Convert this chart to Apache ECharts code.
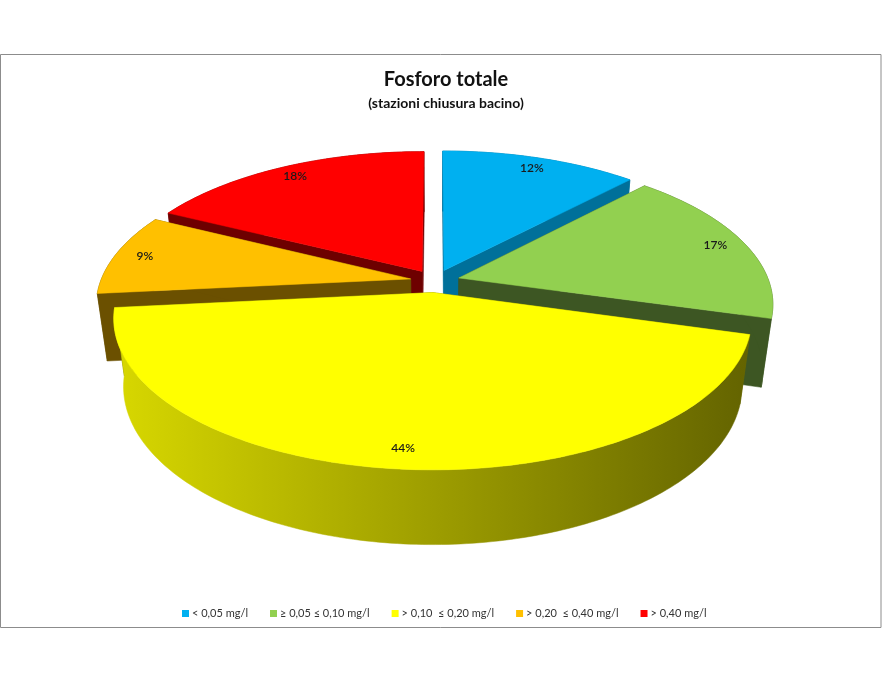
<!DOCTYPE html>
<html>
<head>
<meta charset="utf-8">
<script src="https://cdn.jsdelivr.net/npm/echarts@6/dist/echarts.min.js"></script>
<style>html,body{margin:0;padding:0;background:#fff}#c{width:882px;height:682px}</style>
</head>
<body>
<div id="c"></div>
<script>
// ---- data ----
var categories = ['< 0,05 mg/l', '≥ 0,05 ≤ 0,10 mg/l', '> 0,10  ≤ 0,20 mg/l', '> 0,20  ≤ 0,40 mg/l', '> 0,40 mg/l'];
var values = [12, 17.4, 44, 9, 17.6];
// ---- styles ----
var topColors = ['#00b0f0', '#92d050', '#ffff00', '#ffc000', '#ff0000'];
var sideColors = ['#00709a', '#3d5623', '#6b6b00', '#6b5000', '#6e0000'];
var drawOrder = [4, 0, 3, 1, 2];
// ---- perspective model of the exploded disc ----
var cam = {cx: 435, cy: 281, A: 310, B: 143, k: 0.169, depth: 69, depthW: 0.03, explode: 0.08, labelR: 0.9};

function project(X, Y, low) {
  var w = 1 - cam.k * Y + (low ? cam.depthW : 0);
  return [cam.cx + cam.A * X / w, cam.cy + (cam.B * Y + (low ? cam.depth : 0)) / w];
}
function polar(deg, r, off) {
  var a = deg * Math.PI / 180;
  return [off[0] + r * Math.sin(a), off[1] - r * Math.cos(a)];
}
var total = values.reduce(function (s, v) { return s + v; }, 0);
function span(i) {
  var before = 0;
  for (var j = 0; j < i; j++) before += values[j];
  return [before / total * 360, (before + values[i]) / total * 360];
}
function renderSlice(i) {
  var s = span(i), a0 = s[0], a1 = s[1], mid = (a0 + a1) / 2;
  var off = polar(mid, cam.explode, [0, 0]);
  var top = [], bottom = [];
  var n = Math.ceil(a1 - a0);
  for (var t = 0; t <= n; t++) {
    var p = polar(a0 + (a1 - a0) * t / n, 1, off);
    top.push(project(p[0], p[1], false));
    bottom.push(project(p[0], p[1], true));
  }
  var apexT = project(off[0], off[1], false), apexB = project(off[0], off[1], true);
  var sideFill = sideColors[i];
  var wallFill = i === 2
    ? new echarts.graphic.LinearGradient(0, 0, 1, 0, [{offset: 0, color: '#d8d800'}, {offset: 1, color: '#636300'}])
    : sideFill;
  var z = drawOrder.indexOf(i) * 10;
  var lp = polar(mid, cam.labelR, off), lxy = project(lp[0], lp[1], false);
  function poly(points, fill, dz) {
    return {type: 'polygon', z2: z + dz, silent: true, shape: {points: points},
      style: {fill: fill, stroke: fill, lineWidth: 0.5}};
  }
  return {type: 'group', children: [
    poly([apexT, top[0], bottom[0], apexB], sideFill, 1),
    poly([apexT, top[n], bottom[n], apexB], sideFill, 1),
    poly(top.concat(bottom.slice().reverse()), wallFill, 2),
    poly([apexT].concat(top), topColors[i], 3),
    {type: 'text', z2: 100, silent: true, x: lxy[0], y: lxy[1], style: {
      text: Math.round(values[i] / total * 100) + '%', align: 'center', verticalAlign: 'middle',
      font: '600 12px Lato, sans-serif', fill: '#1a1a1a'}}
  ]};
}

var chart = echarts.init(document.getElementById('c'), null, {renderer: 'canvas'});
chart.setOption({
  backgroundColor: '#fff',
  animation: false,
  title: {
    text: 'Fosforo totale', subtext: '(stazioni chiusura bacino)',
    left: 441, top: 65, textAlign: 'center', itemGap: 6,
    textStyle: {fontFamily: 'Lato', fontSize: 20, fontWeight: 'bold', color: '#111'},
    subtextStyle: {fontFamily: 'Lato', fontSize: 14, fontWeight: 'bold', color: '#111'}
  },
  legend: {
    data: categories, left: 177, top: 603, itemWidth: 7, itemHeight: 7, itemGap: 22,
    icon: 'rect', textStyle: {fontFamily: 'Lato', fontSize: 11, color: '#333', padding: [0, 0, 0, -2]}
  },
  graphic: [{type: 'rect', silent: true, z: -1,
    shape: {x: 0.5, y: 54.5, width: 880.5, height: 573},
    style: {fill: '#fff', stroke: '#8c8c8c', lineWidth: 1}}],
  series: categories.map(function (name, i) {
    return {
      type: 'custom', name: name, coordinateSystem: 'none',
      itemStyle: {color: topColors[i]},
      data: [[values[i]]],
      renderItem: function () { return renderSlice(i); }
    };
  })
});
</script>
</body>
</html>
